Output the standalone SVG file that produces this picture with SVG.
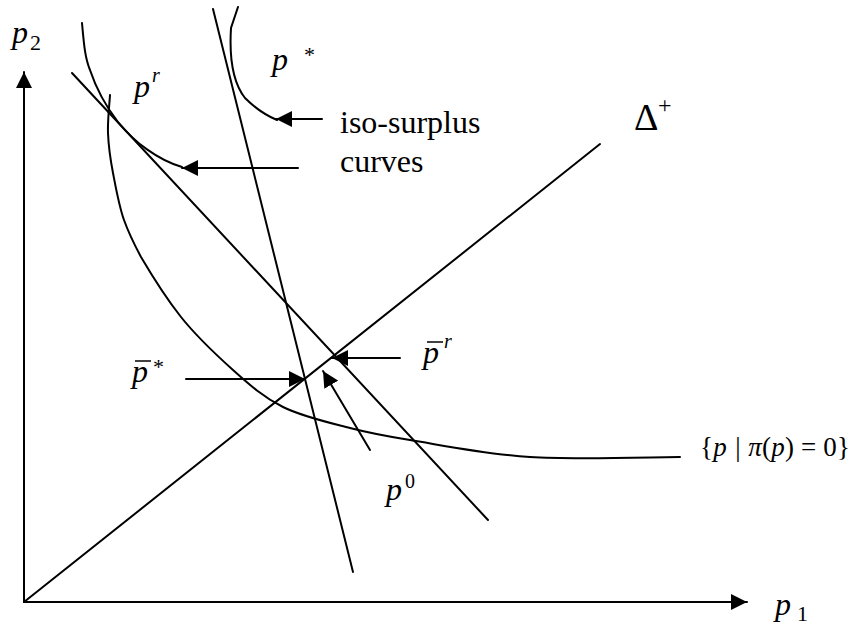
<svg xmlns="http://www.w3.org/2000/svg" width="855" height="626" viewBox="0 0 855 626">
<style>
.ln{fill:none;stroke:#000;stroke-width:2;stroke-linecap:round}
.m{font-style:italic}
</style>
<defs>
<marker id="ah" markerUnits="userSpaceOnUse" markerWidth="17" markerHeight="16" refX="16" refY="8" orient="auto">
<path d="M0,0 L16,8 L0,16 z" fill="#000"/>
</marker>
</defs>
<rect width="855" height="626" fill="#fff"/>
<g id="axes">
<line class="ln" x1="24" y1="602" x2="24" y2="72" marker-end="url(#ah)"/>
<line class="ln" x1="24" y1="602" x2="747" y2="602" marker-end="url(#ah)"/>
</g>
<g id="curves">
<path id="diag" class="ln" d="M24,602 L600,144"/>
<path id="steep" class="ln" d="M213,9 L353,572"/>
<path id="tangent" class="ln" d="M72,73 L488,520"/>
<path id="iso-star" class="ln" d="M238,7 L231,28 C229,60 234,84 245,98 C255,108 265,115 277,120"/>
<path id="iso-r" class="ln" d="M82,23 C84,45 85,58 90,70 C96,88 104,104 118,122 C134,142 158,160 182,167"/>
<path id="zero" class="ln" d="M110,95 C109.7,101.3 107.5,120 108,133 C108.5,146 110.2,158.5 113,173 C115.8,187.5 119,206 124,220 C129,234 133,242 141,257 C151,274 166,298 181,317 C196,335.8 216.3,355 233,370 C249.7,385 263.5,397.3 283,407 C302.5,416.7 328.8,422.5 350,428 C371.2,433.5 380,435.2 410,440 C440,444.8 485,454.2 530,457 C575,459.8 655,457 680,457"/>
</g>
<g id="connectors">
<line class="ln" x1="322" y1="119" x2="276" y2="119" marker-end="url(#ah)"/>
<line class="ln" x1="298" y1="168" x2="182" y2="168" marker-end="url(#ah)"/>
<line class="ln" x1="186" y1="379" x2="305" y2="379" marker-end="url(#ah)"/>
<line class="ln" x1="400" y1="358" x2="332" y2="358" marker-end="url(#ah)"/>
<line class="ln" x1="370" y1="450" x2="323" y2="371" marker-end="url(#ah)"/>
</g>
<g id="labels" font-family="Liberation Serif, Times New Roman, serif" fill="#000">
<g id="label-p2"><text class="m" x="12" y="43" font-size="32">p</text><text x="30" y="50" font-size="22">2</text></g>
<g id="label-p1"><text class="m" x="775" y="615" font-size="32">p</text><text x="797" y="621" font-size="22">1</text></g>
<g id="label-pr"><text class="m" x="134" y="97" font-size="32">p</text><text class="m" x="152" y="82" font-size="20">r</text></g>
<g id="label-pstar"><text class="m" x="272" y="70" font-size="32">p</text><text x="304" y="62" font-size="22">*</text></g>
<g id="label-iso"><text x="340" y="133" font-size="32">iso-surplus</text><text x="340" y="172" font-size="32">curves</text></g>
<g id="label-delta"><text x="634" y="130" font-size="38">Δ</text><text x="658" y="113" font-size="24">+</text></g>
<g id="label-pbarstar"><text class="m" x="132" y="382" font-size="32">p</text><line x1="135" y1="361" x2="151" y2="361" stroke="#000" stroke-width="1.5"/><text x="153" y="374" font-size="22">*</text></g>
<g id="label-pbarr"><text class="m" x="423" y="363" font-size="32">p</text><line x1="427" y1="342" x2="443" y2="342" stroke="#000" stroke-width="1.5"/><text class="m" x="444" y="348" font-size="20">r</text></g>
<g id="label-p0"><text class="m" x="386" y="500" font-size="32">p</text><text x="405" y="488" font-size="20">0</text></g>
<g id="label-zero"><text class="m" x="700" y="456" font-size="27" textLength="150" lengthAdjust="spacing"><tspan font-style="normal">{</tspan>p | π<tspan font-style="normal">(</tspan>p<tspan font-style="normal">) = 0}</tspan></text></g>
</g>
</svg>
